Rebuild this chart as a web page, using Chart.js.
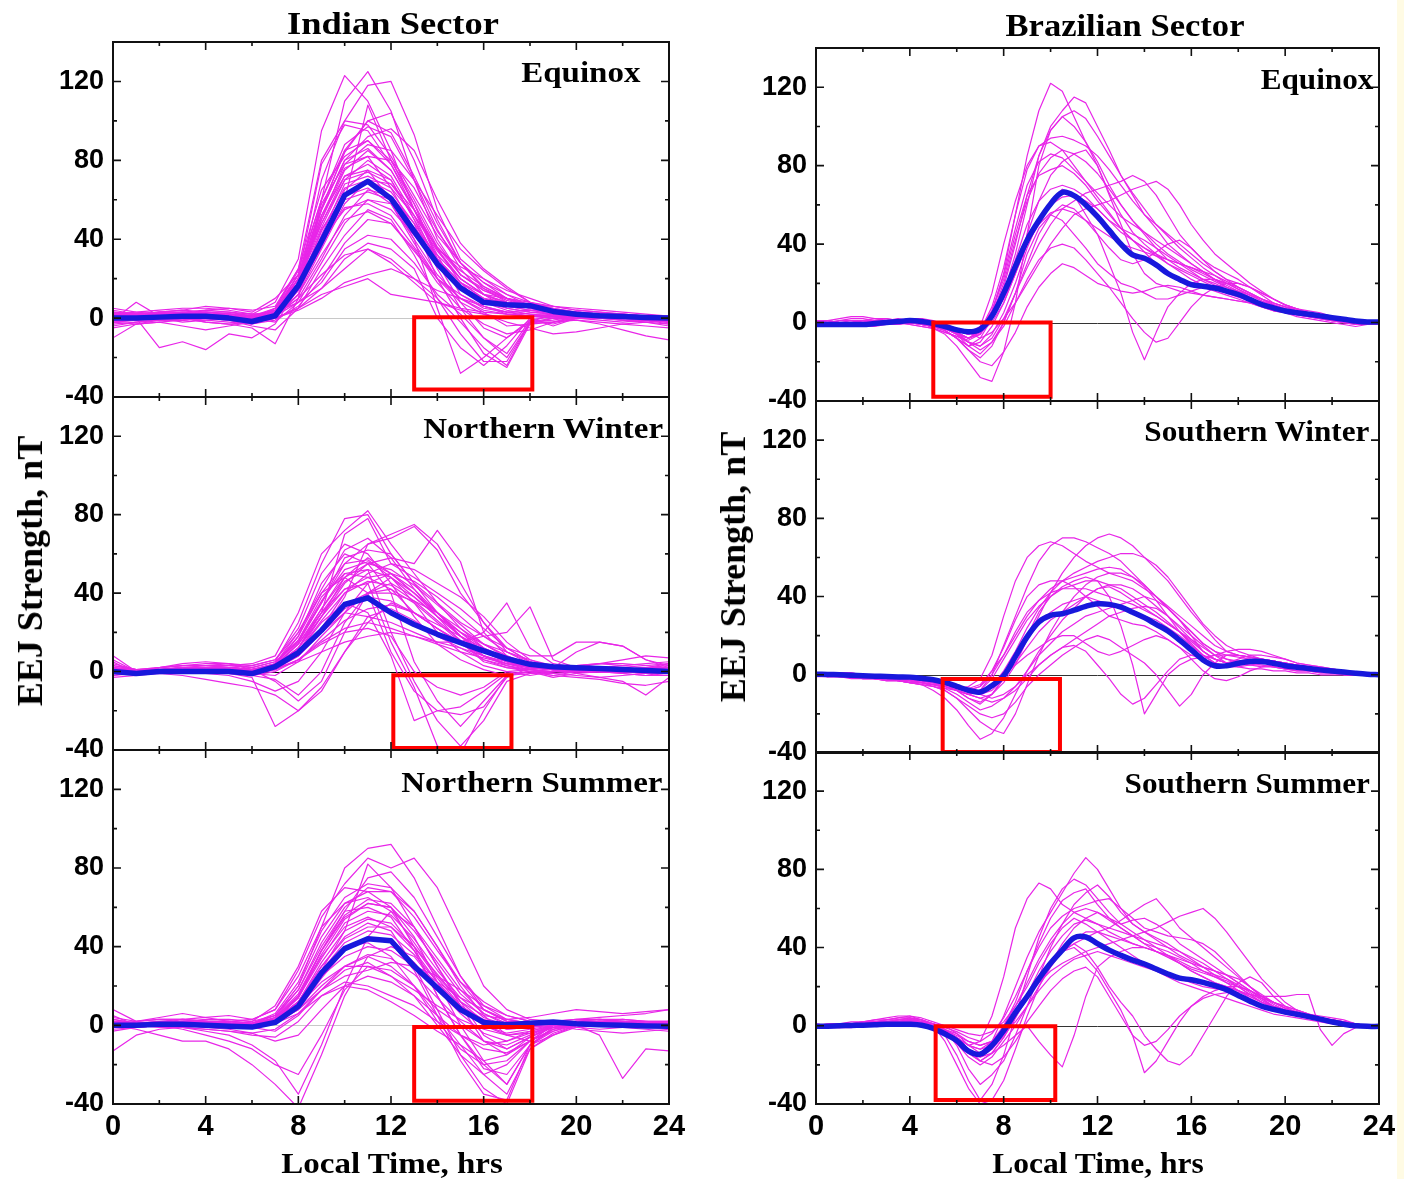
<!DOCTYPE html>
<html><head><meta charset="utf-8">
<script src="https://cdn.jsdelivr.net/npm/chart.js@4.4.1/dist/chart.umd.min.js"></script>
<style>
html,body{margin:0;padding:0;background:#fff;}
body{width:1404px;height:1179px;position:relative;overflow:hidden;}
canvas{position:absolute;}
.t{position:absolute;font-family:'Liberation Serif','Times New Roman',serif;font-weight:bold;color:#000;white-space:nowrap;line-height:1;}
.strip{position:absolute;left:1397px;top:0;width:7px;height:1179px;background:#fffbe4;}
</style></head><body>
<div class="strip"></div>
<script>
// ---------------- DATA ----------------
const hoursHourly = [0,1,2,3,4,5,6,7,8,9,10,11,12,13,14,15,16,17,18,19,20,21,22,23,24];
const hoursHalf = [0,0.5,1,1.5,2,2.5,3,3.5,4,4.5,5,5.5,6,6.5,7,7.5,8,8.5,9,9.5,10,10.5,11,11.5,12,12.5,13,13.5,14,14.5,15,15.5,16,16.5,17,17.5,18,18.5,19,19.5,20,20.5,21,21.5,22,22.5,23,23.5,24];
const xTickValues = [0,4,8,12,16,20,24];
const xMinorTicks = [2,6,10,14,18,22];
const yTickValues = [-40,0,40,80,120];
const yMinorTicks = [-20,20,60,100];

// Indian sector, Equinox
const indEquinoxMean = [0,0,0.5,1,1,0,-1.7,1.2,16.5,39,62.3,69.4,60.6,44,27.5,15.3,8,6.8,6.3,3.4,2,1.2,0.8,0.3,0];
const indEquinoxDays = [
[2,1,3,4,3,2,1,5,22,60,110,125,105,70,40,22,14,10,8,6,4,3,2,1,0],
[0,-1,0,2,3,3,2,8,30,95,123,110,85,55,30,18,12,10,6,4,3,2,1,0,-2],
[-2,-3,-1,0,1,1,-1,4,18,70,100,118,120,93,55,30,20,14,10,6,4,3,2,1,0],
[1,0,-15,-12,-16,-8,-10,-3,15,55,85,100,104,80,50,28,15,8,5,4,3,2,1,0,-1],
[4,2,1,0,-2,-3,-5,-13,10,60,88,97,92,70,45,25,12,5,3,2,2,1,1,0,1],
[-1,8,1,2,4,5,4,6,25,65,82,90,80,60,38,22,15,10,7,5,3,2,1,0,0],
[0,1,2,3,2,1,-2,0,18,50,75,85,75,55,32,12,5,3,4,3,2,1,0,-1,-2],
[2,1,0,-1,0,1,0,3,22,48,70,80,72,52,28,8,-5,-10,-2,2,3,2,1,0,0],
[-5,-3,-2,-1,0,2,1,2,15,40,65,75,70,50,25,5,-10,-20,-2,0,2,1,0,-1,-3],
[3,2,2,3,4,3,1,1,12,35,58,70,68,55,35,18,6,2,1,0,-1,-2,-3,-4,-5],
[-10,-3,-2,-4,-6,-4,-2,1,10,30,52,65,62,48,20,0,-18,-25,-3,-2,0,0,-1,-2,-3],
[0,0,1,1,2,2,0,-2,8,28,48,60,58,40,5,-28,-20,-10,-1,-3,0,1,1,0,0],
[1,2,3,2,0,-1,-4,-6,5,25,42,55,50,32,10,-8,-22,-22,-2,-2,1,1,0,0,-1],
[-1,0,0,1,1,0,-3,-1,6,20,38,50,48,35,18,5,-3,-8,-6,-2,-1,-3,-6,-9,-11],
[2,3,4,5,5,4,2,1,8,18,35,42,40,28,12,2,-10,-18,-1,1,2,1,0,-1,-2],
[0,1,0,-2,-1,0,-1,0,5,15,30,38,35,25,0,-15,-24,-14,0,-4,0,1,2,1,0],
[3,2,2,1,1,2,2,3,8,15,25,35,30,20,10,-2,-15,-24,-2,-1,1,2,2,1,1],
[-2,-1,0,1,2,1,-1,2,10,22,32,35,28,18,8,4,2,-2,-5,-8,-7,-5,-3,-2,-1],
[1,0,-1,0,-2,-3,-2,0,4,10,18,22,25,20,14,10,6,3,1,0,0,-1,-2,-1,0],
[0,2,3,4,6,5,3,10,22,78,98,95,78,55,35,26,20,12,6,3,1,0,-1,-2,-4],
[-3,-2,-1,0,1,0,-2,5,25,80,100,98,82,62,42,28,18,10,5,3,2,1,0,-1,0],
[5,3,2,2,3,2,0,2,20,55,80,92,96,85,60,38,25,16,8,4,2,1,0,0,1],
[0,1,2,2,1,0,-1,3,20,58,78,82,66,45,28,16,10,8,7,6,5,4,3,2,1],
[-4,-2,-1,0,1,1,0,4,18,52,72,75,60,40,22,10,3,-4,-3,0,1,2,1,0,-1],
[1,0,-1,-1,0,0,-2,2,15,45,62,66,58,38,20,8,2,0,1,2,3,2,1,0,0],
[2,2,1,0,-1,-2,-3,0,12,40,55,60,55,42,28,15,8,5,3,2,1,0,0,-1,-2],
[0,0,1,1,0,-1,-2,0,5,12,16,20,12,10,8,5,3,2,1,1,0,0,-1,-1,-2],
[1,1,2,2,3,2,1,4,20,50,78,88,85,70,52,35,24,15,8,3,1,0,0,0,0],
[-1,0,0,1,1,1,0,3,16,42,68,72,66,52,36,24,16,10,6,3,2,1,0,0,-1],
[2,1,1,0,0,1,1,2,14,36,60,108,80,58,30,18,10,6,4,2,1,1,0,0,0],
[0,1,1,2,2,1,0,4,20,55,80,86,75,55,35,20,12,8,5,3,2,1,0,0,0],
[1,0,0,1,1,0,-1,3,18,48,72,78,70,50,30,16,8,4,2,1,1,0,0,0,-1],
[-1,-1,0,0,1,1,0,2,15,44,66,70,64,48,30,18,10,6,4,3,2,1,1,0,0],
[2,2,3,3,2,1,0,5,24,60,85,90,78,58,36,22,14,9,6,4,2,1,1,0,0],
[0,0,-1,-1,0,1,1,3,16,40,60,64,60,46,32,20,12,8,6,4,3,2,1,1,0],
[1,1,2,2,1,0,-2,2,14,38,56,58,52,36,20,10,4,2,1,1,0,0,0,0,0],
[-2,-1,-1,0,0,0,-1,3,20,52,76,82,80,66,44,28,18,12,8,5,3,2,1,0,-1],
[0,0,1,1,2,2,1,4,22,56,84,100,94,72,48,28,16,10,6,4,2,1,1,0,0],
[1,2,2,1,0,-1,-2,1,12,32,50,54,48,34,20,12,6,3,2,1,1,0,0,0,0],
[0,1,1,1,1,1,0,3,18,46,70,74,68,52,34,20,12,7,5,3,2,1,1,0,0]
];
const indEquinoxBox = [13, 18.1, -36.2, 0.5];

// Indian sector, Northern Winter
const indWinterMean = [0,-1,0,0,0,0,-1,2.5,9.7,21,34.2,37.6,30,24,19,14.7,10.5,6.6,3.7,2.5,2,1.5,1,0.5,0];
const indWinterDays = [
[8,0,2,3,3,4,2,5,25,55,78,80,60,45,30,20,10,5,2,1,0,0,1,2,3],
[5,-1,0,1,2,3,4,8,30,60,72,82,65,50,35,22,12,6,3,2,2,1,0,1,2],
[-2,0,1,2,1,0,-2,3,15,35,55,65,70,75,65,45,25,10,4,2,1,0,0,0,1],
[0,0,0,1,2,2,1,2,10,28,45,55,58,55,72,56,20,8,3,1,1,2,3,4,5],
[3,1,1,0,-1,-2,-5,-10,-5,10,30,45,50,42,30,18,8,3,0,-2,-3,-4,-6,-7,-5],
[0,0,2,4,5,4,1,-5,-15,-5,20,40,48,35,20,10,3,0,1,2,3,4,3,2,1],
[1,-1,-1,0,0,-1,-3,-28,-20,-8,10,25,35,30,22,15,6,2,0,0,1,0,-1,-2,0],
[-3,-2,-1,-2,-4,-6,-8,-12,-20,-10,10,28,32,26,18,12,6,3,1,0,0,1,2,1,0],
[2,0,1,1,2,1,0,3,18,45,60,55,40,5,-15,-28,-15,-2,0,0,1,2,1,0,1],
[0,-1,0,0,1,1,0,2,12,32,50,52,20,-5,-25,-38,-25,-5,-1,-1,0,0,0,-1,0],
[4,1,2,3,3,2,1,4,20,40,48,40,10,-10,-20,-22,-18,-3,2,2,3,4,4,3,4],
[-1,0,0,1,2,2,1,3,14,30,42,45,15,-8,-38,-42,-20,-2,0,-2,0,0,-1,-2,-2],
[1,0,1,2,1,0,-1,2,10,25,35,30,8,-25,-20,-18,-10,-1,0,-3,-1,0,0,0,1],
[0,0,1,2,3,3,2,5,15,35,58,62,60,45,35,25,18,12,8,8,15,15,13,6,3],
[2,1,0,0,1,1,0,4,18,40,55,57,48,40,28,20,14,10,6,3,2,4,6,8,7],
[-2,-1,0,1,2,2,1,4,16,38,50,48,42,30,22,15,20,35,12,4,2,1,0,-1,-2],
[6,0,1,2,2,1,-1,2,8,20,30,28,25,20,15,15,18,20,33,6,2,0,1,2,4],
[0,-1,-1,0,0,-1,-2,0,6,15,22,25,22,18,14,10,7,4,2,1,-1,-3,-5,-12,-3],
[1,0,0,1,1,0,-2,1,8,20,38,65,68,74,62,40,25,12,5,2,1,1,0,0,0],
[-1,0,1,1,2,2,1,3,12,28,48,58,50,40,30,18,10,5,2,1,0,0,0,1,1],
[3,1,2,3,4,4,3,6,20,42,62,68,58,42,28,15,5,2,1,0,0,1,1,1,2],
[0,0,-1,-1,0,0,-1,-2,5,18,30,40,42,35,25,15,8,5,3,2,10,15,13,6,2],
[2,0,0,1,1,1,0,1,6,14,20,22,18,0,-8,-12,-8,0,-2,0,1,1,1,2,2],
[-1,-1,0,0,1,2,3,6,22,50,65,60,45,28,14,6,1,-2,-1,0,1,1,0,0,-1],
[0,0,1,1,1,0,-2,-4,-12,0,25,40,45,38,28,18,10,5,2,1,0,0,0,0,0],
[1,0,0,0,1,1,0,2,5,10,15,18,20,18,15,12,8,4,1,-1,-2,-3,-2,-1,0],
[0,1,1,2,2,1,0,3,12,30,70,78,55,48,40,32,22,12,5,2,1,1,0,0,0],
[-1,0,0,0,1,1,0,2,8,22,40,50,55,52,45,38,28,15,6,2,1,0,0,-1,-1],
[0,0,1,1,1,1,0,2,10,26,40,46,44,36,26,16,8,4,2,1,1,0,0,0,0],
[1,0,0,1,1,0,-1,2,12,30,46,52,48,38,28,18,10,5,2,1,0,0,0,1,1],
[0,-1,0,0,1,1,1,3,14,32,48,55,52,44,34,24,14,7,3,1,1,1,0,0,0],
[2,1,1,2,2,2,1,3,10,22,34,40,40,36,30,22,14,8,4,2,1,1,1,1,2],
[-1,0,0,1,1,1,0,2,8,20,32,38,36,30,22,14,8,4,2,1,0,0,0,0,-1],
[0,0,1,1,2,2,1,3,12,28,42,48,50,46,38,28,18,10,5,2,1,1,0,0,0],
[1,0,0,0,1,1,0,1,6,16,26,32,34,30,24,18,12,7,3,1,0,0,0,0,1],
[0,1,1,1,2,2,1,4,16,36,52,56,50,40,30,20,12,6,3,1,1,0,0,0,0]
];
const indWinterBox = [12.1, 17.2, -39, -1.9];

// Indian sector, Northern Summer
const indSummerMean = [0,0,0.5,0.5,0,-0.5,-0.9,1.5,9.7,26.7,39,44,43,30,19,8,1.5,0.3,1,1.7,0.8,0.3,0,-0.3,-0.5];
const indSummerDays = [
[8,2,4,6,4,2,1,5,20,50,80,90,92,75,50,25,8,2,1,2,3,4,5,6,8],
[5,0,1,3,4,5,3,8,28,55,72,85,80,85,70,45,20,8,3,2,1,1,0,0,1],
[0,1,2,3,2,2,1,6,22,48,65,72,70,58,40,20,5,-5,-8,-3,1,2,2,1,2],
[-13,-5,-2,-1,0,1,2,10,30,58,70,68,60,40,15,-5,-20,-30,-10,-5,0,1,1,0,0],
[2,1,0,-1,-3,-5,-10,-18,-35,-10,20,45,58,50,30,10,-8,-15,-8,0,2,1,0,-1,-1],
[0,-2,-5,-8,-8,-12,-20,-30,-42,-15,15,35,40,35,20,8,0,-5,-3,0,1,2,1,0,0],
[3,1,0,-2,-5,-8,-12,-20,-25,-5,18,30,28,20,5,-10,-25,-35,-12,-5,-1,0,-1,-2,-3],
[1,0,1,2,2,1,0,4,15,38,55,62,60,45,22,0,-18,-30,-10,-2,0,1,1,1,2],
[-1,-1,0,0,1,1,0,3,12,30,45,52,48,30,8,-15,-32,-40,-12,-4,0,0,0,-1,-1],
[2,1,1,2,3,3,2,5,18,40,58,60,55,38,15,-5,-22,-25,-10,-1,1,2,2,1,1],
[0,0,1,1,1,0,-1,2,10,25,38,45,42,28,5,-18,-35,-38,-10,-3,0,0,0,0,0],
[4,2,3,3,2,1,0,3,12,28,40,42,35,20,2,-12,-20,-18,-8,-2,1,2,3,2,2],
[-3,-1,0,0,1,2,3,8,25,50,62,65,58,42,25,12,5,3,4,6,8,7,6,7,8],
[1,0,0,0,-1,-2,-4,-8,-5,8,20,25,22,15,5,-5,-12,-14,-8,-2,0,-5,-27,-12,-13],
[0,1,2,2,1,1,0,2,8,20,30,35,30,20,8,0,-8,-10,-5,0,2,3,3,2,1],
[2,1,0,0,0,0,-1,-3,5,18,28,32,25,15,0,-15,-25,-20,-8,0,1,1,0,0,0],
[0,0,0,1,1,1,0,2,10,25,35,40,38,30,22,14,8,3,1,0,-1,-2,-1,0,0],
[1,2,3,3,2,1,0,4,18,42,60,70,68,55,38,22,12,5,2,1,1,0,0,1,1],
[-2,-1,0,0,0,1,1,3,15,35,50,55,50,38,22,10,3,0,0,1,2,2,1,0,-1],
[0,0,1,1,2,2,1,3,10,22,30,30,25,18,10,3,-2,-5,-4,-1,0,0,0,0,0],
[1,0,-1,-1,-2,-3,-5,-6,2,15,22,20,15,10,2,-5,-10,-8,-3,0,1,1,1,1,1],
[0,1,1,2,2,2,1,5,20,45,62,68,68,58,40,22,8,2,1,2,3,3,2,1,0],
[-1,0,0,1,1,1,0,2,8,18,25,28,32,30,25,18,10,5,2,0,-2,-3,-4,-3,-2],
[3,1,0,-1,-2,-3,-4,-2,6,15,20,18,12,5,-3,-10,-18,-15,-6,0,2,3,2,2,2],
[0,0,1,1,1,1,0,3,14,38,58,75,78,65,45,25,10,3,1,1,2,2,1,1,0],
[-1,-1,0,0,0,0,-1,2,10,28,48,82,70,50,30,12,-5,-12,-6,-1,0,0,0,0,0],
[0,0,1,1,1,1,0,3,12,32,48,54,52,40,24,10,2,-2,-1,0,1,1,1,0,0],
[1,1,1,2,2,1,0,3,14,34,52,58,56,44,28,14,4,0,0,1,1,1,1,1,1],
[0,0,0,1,1,1,0,2,10,28,42,48,46,36,22,8,0,-4,-2,0,1,1,0,0,0],
[-1,0,0,0,1,1,0,3,14,36,54,62,60,48,32,16,6,1,0,1,1,0,0,0,-1],
[1,1,1,1,1,0,-1,1,8,24,38,44,42,32,18,6,-4,-8,-4,0,1,1,1,1,1],
[0,0,1,1,1,1,0,2,12,30,44,50,50,40,26,12,2,-2,-1,1,2,1,1,0,0],
[0,0,0,1,1,1,1,4,16,38,56,64,62,50,34,18,6,0,0,1,1,1,0,0,0],
[1,0,0,0,0,0,-1,1,6,18,30,36,34,26,14,2,-8,-12,-6,-1,0,0,0,0,0]
];
const indSummerBox = [13, 18.1, -38.4, -0.8];

// Brazilian sector, Equinox (half-hourly)
const braEquinoxMean = [-1,-1,-1,-1,-1,-0.5,0,0.5, 1,0.5,-0.5,-2,-3.7,-4.7,-3.4,3.4, 15,28.6,42,52,60.5,66.4,64.7,60, 54,47,40,34.5,32.8,29.4,25,22, 19.3,18.5,17.6,16,14.3,11.8,9.2,7.5, 5.9,5,4.2,3.4,2.5,1.7,0.8,0.3, 0.3];
const braEquinoxDays = [
[-1,-2,-1,0,1,0,-1,0, 1,2,0,-3,-6,-8,-5,5, 25,55,85,108,122,118,105,92, 80,66,55,46,40,35,30,26, 22,19,17,15,13,11,9,7, 5,4,3,2,1,1,0,0, -1],
[0,1,0,-1,0,1,2,1, 0,-1,-2,-4,-8,-12,-8,2, 15,35,60,85,100,108,115,112, 100,88,75,65,55,48,40,35, 30,26,22,18,15,12,10,8, 6,5,4,3,2,1,1,0, 0],
[1,0,-1,-2,-1,0,1,2, 1,0,-3,-6,-12,-20,-28,-30, -15,10,45,80,98,105,100,92, 82,70,60,52,45,38,32,28, 25,22,20,17,14,11,9,7, 6,4,3,2,1,0,-1,-1, 0],
[-2,-1,-1,0,0,1,0,-1, 0,1,0,-2,-5,-8,-4,8, 28,55,78,90,94,95,93,90, 85,78,70,62,55,50,45,40, 35,30,26,22,18,15,12,9, 7,5,4,3,2,1,1,0, 0],
[0,0,1,2,2,1,0,0, -1,-2,-3,-5,-7,-10,-12,-8, 2,15,28,40,50,58,62,66, 68,70,72,75,72,65,55,45, 38,32,28,25,22,18,14,10, 8,6,5,4,3,2,1,0, -1],
[1,1,0,-1,-2,-2,-1,0, 1,1,0,-2,-4,-6,-5,0, 10,25,45,62,75,82,86,88, 80,65,50,35,25,20,18,16, 15,14,13,12,11,10,9,8, 7,6,5,4,3,2,1,1, 0],
[-1,-1,0,0,1,1,0,0, 0,0,-1,-3,-6,-10,-12,-6, 5,20,38,52,62,68,65,55, 45,30,15,-5,-19,-5,8,15, 20,22,22,20,18,15,12,10, 8,6,5,4,3,2,1,0, 0],
[0,1,2,3,3,2,1,0, 0,-1,-2,-4,-8,-14,-18,-12, 0,15,30,45,55,60,58,52, 45,38,32,30,32,36,40,42, 38,32,26,22,20,18,15,12, 9,7,5,4,3,2,1,0, 0],
[-1,0,0,1,0,-1,-1,0, 1,0,-1,-3,-6,-12,-16,-10, -2,10,22,32,38,40,38,32, 25,18,10,2,-5,-10,-8,0, 8,14,18,20,20,18,15,12, 9,7,5,3,2,1,0,-1, -1],
[0,0,-1,-1,0,0,1,1, 0,-1,-2,-3,-5,-8,-4,6, 22,45,65,75,78,80,76,70, 62,55,48,42,38,35,32,30, 28,25,22,20,17,14,11,9, 7,5,4,3,2,1,0,0, 0],
[-2,-2,-1,-1,0,0,-1,-1, 0,0,-1,-2,-4,-6,-3,3, 12,25,40,52,60,64,65,62, 58,52,48,45,42,38,34,30, 26,22,19,16,14,12,10,8, 6,5,4,3,2,1,0,0, 0],
[1,1,0,0,-1,-1,0,1, 2,1,0,-2,-5,-10,-14,-10, 0,15,35,48,55,52,45,38, 30,25,20,18,15,12,12,14, 16,18,19,18,16,14,12,10, 8,7,6,5,3,2,1,0, 0],
[0,-1,-1,0,1,2,2,1, 0,0,-1,-2,-3,-5,-8,-5, 2,10,20,30,40,48,55,58, 60,62,65,68,70,72,68,60, 50,42,35,30,25,20,16,12, 9,7,5,4,3,2,1,0, 0],
[0,0,0,-1,-1,0,1,1, 2,2,1,-1,-3,-5,-2,15, 40,62,80,90,92,88,80,72, 64,56,48,42,36,30,25,22, 20,18,16,14,12,10,8,6, 5,4,3,2,1,0,-1,-1, 0],
[-1,-1,0,0,0,1,1,0, 0,-1,-2,-4,-8,-14,-20,-22, -15,-5,8,18,25,30,28,24, 20,18,16,15,16,18,19,18, 16,14,13,12,11,10,8,6, 5,3,2,1,0,-1,-2,-1, 0],
[1,0,0,0,-1,-1,0,0, -1,-2,-3,-5,-7,-9,-6,3, 18,40,65,85,98,105,108,104, 95,85,75,66,58,50,44,38, 33,28,24,20,17,14,11,8, 6,4,3,2,1,0,0,0, 0],
[0,0,0,0,0,0,0,0, 0,0,-1,-3,-6,-8,-5,4, 20,42,62,76,84,88,86,82, 76,68,60,52,46,40,35,31, 27,24,21,18,15,12,10,8, 6,5,4,3,2,1,0,0, 0],
[-1,-1,0,0,0,0,0,0, 0,0,-1,-3,-5,-8,-6,2, 14,32,50,62,68,70,68,64, 58,52,46,42,38,34,30,27, 24,21,18,16,14,12,10,8, 6,5,4,3,2,1,0,0, 0],
[0,0,1,1,1,0,0,0, 0,-1,-2,-4,-8,-12,-10,-2, 10,25,40,50,56,58,56,52, 48,44,40,38,36,34,32,30, 28,26,24,21,18,15,12,9, 7,5,4,3,2,1,0,0, 0],
[0,0,0,-1,-1,0,0,0, 0,0,-1,-2,-4,-6,-3,6, 24,48,70,82,86,84,78,72, 66,60,54,50,46,42,38,34, 30,26,22,19,16,13,10,8, 6,5,4,3,2,1,0,0, 0]
];
const braEquinoxBox = [5, 10, -37.8, 0];

// Brazilian sector, Southern Winter
const braWinterMean = [0.3,0.2,0,-0.3,-0.5,-0.7,-0.9,-1.1, -1.2,-1.8,-2.5,-3.9,-5.9,-7.9,-8.8,-5.6, -0.5,9.3,19.4,27,30.4,31.2,33,35, 36.3,36,34.6,32,29.2,25.8,22.4,17.7, 12.7,7.6,4.6,4.6,5.9,6.8,6.8,5.9, 4.6,3.9,3.2,2.5,1.9,1.4,0.8,0.3, 0];
const braWinterDays = [
[0,0,1,1,0,-1,-1,-2, -2,-3,-4,-6,-8,-10,-8,0, 15,30,45,58,66,70,70,68, 65,62,58,52,46,40,34,28, 22,16,12,10,9,8,7,6, 5,4,3,2,1,1,0,0, 0],
[1,0,0,-1,-1,-2,-2,-3, -3,-4,-5,-6,-8,-10,-12,-10, -4,5,18,30,42,52,60,66, 70,72,70,66,60,54,48,40, 32,25,18,12,10,9,8,7, 6,5,4,3,2,1,0,0, 0],
[0,-1,-1,-1,-2,-2,-3,-3, -4,-4,-5,-6,-7,-6,-2,10, 30,48,60,66,68,66,62,58, 55,52,50,48,44,40,35,30, 25,20,15,12,10,9,8,7, 6,5,4,3,2,1,1,0, 0],
[0,0,0,-1,-1,-2,-2,-3, -4,-5,-8,-12,-18,-26,-33,-30, -22,-10,2,12,20,28,34,40, 44,45,42,38,34,30,26,22, 18,14,10,8,7,6,5,4, 3,2,2,1,1,0,0,0, 0],
[-1,-1,0,0,0,-1,-1,-2, -3,-4,-6,-8,-12,-18,-24,-28, -30,-20,-5,10,22,32,40,46, 50,52,52,50,46,40,34,28, 22,16,12,8,6,5,5,4, 3,2,2,1,1,0,0,0, 0],
[0,0,1,1,0,0,-1,-1, -2,-2,-3,-4,-6,-8,-10,-8, -2,8,20,32,40,45,48,50, 48,40,25,5,-20,-10,0,5, 8,9,10,10,10,9,8,7, 6,5,4,3,2,1,0,0, 0],
[0,0,-1,-1,-2,-2,-3,-3, -4,-5,-6,-7,-8,-10,-12,-14, -12,-8,-2,5,10,14,15,12, 5,-2,-10,-15,-12,-5,2,8, 10,10,8,6,5,5,4,4, 3,3,2,2,1,1,0,0, 0],
[1,1,0,0,-1,-1,-2,-2, -3,-3,-4,-5,-7,-9,-10,-6, 2,12,24,34,42,48,52,55, 58,60,62,62,60,56,50,42, 34,26,20,15,12,10,8,7, 6,5,4,3,2,1,0,0, 0],
[0,-1,-1,-2,-2,-2,-3,-3, -4,-4,-5,-6,-8,-12,-15,-10, -2,8,18,26,32,36,38,40, 38,36,34,32,30,28,24,20, 15,10,6,4,5,6,7,7, 6,5,4,3,2,1,1,0, 0],
[0,0,0,-1,-1,-1,-2,-2, -3,-3,-4,-5,-6,-8,-10,-12, -10,-6,0,5,10,14,18,22, 26,30,32,34,35,34,30,25, 20,15,10,6,4,3,3,2, 2,1,1,0,0,0,0,0, 0],
[1,1,0,0,0,-1,-1,-2, -2,-3,-4,-5,-6,-8,-6,2, 14,28,40,46,48,48,45,40, 35,30,28,26,25,22,18,14, 10,8,10,12,13,13,12,10, 8,6,5,4,3,2,1,0, 0],
[0,0,-1,-1,-1,-2,-2,-3, -4,-5,-6,-8,-12,-16,-20,-22, -20,-14,-6,0,5,10,14,18, 20,18,14,10,6,0,-8,-16, -10,0,6,10,10,9,8,6, 5,4,3,2,2,1,0,0, 0],
[0,0,0,0,-1,-1,-1,-2, -2,-3,-4,-5,-6,-7,-5,2, 10,20,30,38,44,48,50,52, 54,55,54,50,45,38,30,22, 15,10,6,4,4,5,6,6, 5,4,3,2,1,1,0,0, 0],
[0,-1,-1,-1,-2,-2,-2,-3, -3,-4,-5,-6,-8,-10,-9,-5, 0,5,10,14,18,20,20,16, 12,10,12,15,18,20,18,14, 8,2,-2,-3,-1,2,4,5, 5,4,3,2,1,1,0,0, 0],
[0,0,0,-1,-1,-1,-2,-2, -3,-4,-5,-7,-10,-14,-18,-16, -12,-6,2,10,16,22,26,30, 32,34,36,38,40,38,34,28, 20,12,8,6,8,10,10,9, 8,6,5,4,3,2,1,0, 0],
[0,0,0,0,-1,-1,-1,-2, -2,-3,-4,-5,-7,-9,-8,-2, 8,18,28,35,40,44,46,48, 48,46,44,40,36,32,27,22, 16,10,6,5,6,7,7,6, 5,4,3,2,1,1,0,0, 0],
[0,0,-1,-1,-1,-2,-2,-2, -3,-3,-4,-6,-8,-12,-14,-10, -2,6,14,22,28,32,36,40, 44,46,46,44,40,35,30,24, 18,12,8,6,6,7,7,6, 5,4,3,2,1,1,0,0, 0],
[0,0,0,0,0,-1,-1,-1, -2,-2,-3,-4,-6,-8,-6,0, 10,22,32,38,42,44,44,44, 42,40,38,36,33,30,26,22, 17,12,8,6,7,8,8,7, 6,5,4,3,2,1,0,0, 0]
];
const braWinterBox = [5.4, 10.4, -39.5, -2.2];

// Brazilian sector, Southern Summer
const braSummerMean = [-0.3,-0.2,0,0.2,0.3,0.5,0.8,0.8, 0.8,0.3,-1.3,-4.2,-7.6,-13,-14.5,-10, -2.5,6.7,15,24,32,38.7,45,45.4, 42,38.7,36,33.6,31.6,29,26.5,24.4, 23.5,22.2,20.5,18.5,15.5,12.6,10,8.4, 7,5.9,4.7,3.4,2,0.8,0,-0.3, -0.3];
const braSummerDays = [
[0,0,1,1,2,2,3,4, 5,4,2,0,-4,-10,-14,-8, 5,20,35,48,58,68,78,86, 80,70,60,52,48,45,42,38, 34,30,26,22,18,14,11,8, 6,5,4,3,2,1,0,0, 0],
[-1,0,0,1,1,2,2,3, 3,2,0,-5,-15,-28,-38,-30, -15,5,25,45,60,70,75,72, 65,58,52,48,44,40,36,32, 28,25,22,20,18,15,12,10, 8,6,5,4,3,2,1,0, 0],
[0,-1,0,0,1,1,2,2, 3,3,1,-2,-6,-10,-8,5, 25,50,65,73,70,62,58,55, 52,50,48,46,44,42,40,38, 35,32,28,24,20,16,12,9, 7,5,4,3,2,1,1,0, 0],
[1,0,0,0,1,1,2,3, 4,2,0,-3,-8,-14,-16,-12, -5,5,15,25,32,38,42,45, 48,50,54,58,62,65,58,50, 45,40,35,30,25,20,15,12, 9,7,5,4,3,2,1,0, 0],
[0,0,-1,-1,0,1,1,2, 2,1,-1,-4,-8,-14,-18,-14, -6,4,14,24,32,38,40,35, 28,18,8,-5,-24,-18,-8,2, 10,15,18,20,20,18,15,12, 9,7,5,3,2,1,0,0, 0],
[0,0,0,1,1,2,2,2, 3,2,0,-3,-8,-12,-16,-14, -10,-5,0,-8,-15,-21,-5,15, 30,35,38,40,40,38,35,32, 28,25,22,20,18,15,12,10, 8,6,5,4,3,2,1,0, 0],
[-1,-1,0,0,0,1,1,2, 2,1,0,-2,-4,-8,-10,-8, -2,6,15,22,28,32,35,38, 40,42,44,46,48,50,53,56, 58,60,55,48,40,32,24,18, 12,8,6,4,3,2,1,0, 0],
[0,1,1,2,2,3,3,4, 4,3,0,-8,-20,-32,-40,-38, -28,-12,5,20,32,42,50,55, 58,55,50,46,42,40,38,35, 32,28,25,22,20,18,15,12, 10,8,6,4,3,2,1,0, 0],
[0,0,0,0,1,1,1,2, 2,1,0,-2,-5,-8,-10,-8, -4,2,10,18,25,30,34,36, 38,36,34,32,30,28,26,24, 22,20,19,18,17,16,15,15, 15,16,16,-2,-10,-4,-1,0, 0],
[0,0,0,1,1,1,2,2, 2,2,1,0,-2,-4,-5,-3, 2,10,20,32,42,50,55,52, 48,44,40,36,32,28,25,22, 20,18,16,14,12,10,8,6, 5,4,3,2,1,1,0,0, 0],
[0,0,1,1,1,2,2,2, 3,2,0,-3,-6,-10,-12,-10, -4,5,15,25,32,38,42,38, 30,20,12,5,-5,-12,-18,-20, -15,-5,5,15,22,25,22,15, 10,6,4,3,2,1,0,0, 0],
[0,-1,-1,0,0,1,1,2, 3,2,1,-1,-3,-6,-8,-4, 4,15,28,40,50,56,60,62, 64,65,60,55,50,48,46,45, 44,42,38,32,26,20,15,11, 8,6,5,3,2,1,0,0, 0],
[1,0,0,0,1,1,1,2, 2,2,0,-3,-6,-12,-18,-20, -16,-8,2,10,18,24,28,30, 25,15,5,-5,-10,-8,-2,5, 10,14,16,17,18,16,14,12, 10,8,6,5,4,3,1,0, 0],
[0,0,1,1,2,2,3,3, 4,3,1,-2,-6,-12,-15,-10, 0,12,28,42,55,64,68,70, 62,55,52,54,55,52,48,42, 38,34,30,26,22,18,14,10, 8,6,4,3,2,1,0,0, 0],
[0,1,1,1,2,3,4,5, 5,3,1,-2,-10,-22,-30,-25, -18,-5,10,25,40,52,62,68, 72,66,58,52,48,44,40,36, 33,30,28,26,24,20,16,12, 9,7,5,3,2,1,0,0, 0],
[0,0,0,1,1,2,2,3, 3,2,0,-3,-8,-14,-18,-14, -6,4,16,28,38,46,52,54, 52,48,45,42,40,38,36,34, 32,30,28,26,22,18,14,10, 8,6,5,3,2,1,0,0, 0],
[0,0,1,1,1,2,2,2, 3,2,0,-2,-6,-10,-12,-8, 0,10,22,34,44,52,58,60, 58,54,50,46,42,38,35,32, 29,27,25,23,20,16,12,9, 7,6,4,3,2,1,0,0, 0],
[0,0,0,1,1,1,2,2, 2,1,-1,-4,-9,-16,-20,-16, -8,0,10,20,30,38,44,48, 48,46,44,42,40,38,36,33, 30,28,26,24,21,17,13,10, 8,6,5,3,2,1,0,0, 0]
];
const braSummerBox = [5.1, 10.2, -37.9, -0.3];

// ---------------- STYLE / LAYOUT ----------------
const MAGENTA = 'rgb(232,38,232)';
const BLUE = '#1818dc';
const RED = '#ff0000';
const TICKFONT = "'Liberation Sans', Arial, sans-serif";
const TOPPAD = 30, RIGHTPAD = 30;

const panels = [
 {hours:hoursHourly, mean:indEquinoxMean, days:indEquinoxDays, box:indEquinoxBox, zero:'#c8c8c8', area:{l:113,t:42,r:669,b:397}, col:0, bottom:false, tension:0},
 {hours:hoursHourly, mean:indWinterMean, days:indWinterDays, box:indWinterBox, zero:'#000', area:{l:113,t:397,r:669,b:750}, col:0, bottom:false, tension:0},
 {hours:hoursHourly, mean:indSummerMean, days:indSummerDays, box:indSummerBox, zero:'#c8c8c8', area:{l:113,t:750,r:669,b:1104}, col:0, bottom:true, tension:0},
 {hours:hoursHalf, mean:braEquinoxMean, days:braEquinoxDays, box:braEquinoxBox, zero:'#333', area:{l:816,t:48,r:1379,b:401}, col:700, bottom:false, tension:0.35},
 {hours:hoursHalf, mean:braWinterMean, days:braWinterDays, box:braWinterBox, zero:'#333', area:{l:816,t:401,r:1379,b:753}, col:700, bottom:false, tension:0.35},
 {hours:hoursHalf, mean:braSummerMean, days:braSummerDays, box:braSummerBox, zero:'#333', area:{l:816,t:752,r:1379,b:1104}, col:700, bottom:true, tension:0.35}
];

const framePlugin = {
  id:'frame',
  beforeDatasetsDraw(chart, args, opts){
    const {ctx, chartArea:a, scales:{y}} = chart;
    const y0 = Math.round(y.getPixelForValue(0)) + 0.5;
    ctx.save();
    ctx.strokeStyle = opts.zero; ctx.lineWidth = 1;
    ctx.beginPath(); ctx.moveTo(a.left, y0); ctx.lineTo(a.right, y0); ctx.stroke();
    ctx.restore();
  },
  afterDraw(chart){
    const {ctx, chartArea:a, scales:{x,y}} = chart;
    ctx.save();
    ctx.strokeStyle = '#111';
    ctx.lineWidth = 1.6;
    ctx.beginPath();
    const xt = (vals, len) => vals.forEach(v => {
      const px = x.getPixelForValue(v);
      ctx.moveTo(px, a.bottom); ctx.lineTo(px, a.bottom - len);
      ctx.moveTo(px, a.top); ctx.lineTo(px, a.top + len);
    });
    const yt = (vals, len) => vals.forEach(v => {
      const py = y.getPixelForValue(v);
      ctx.moveTo(a.left, py); ctx.lineTo(a.left + len, py);
      ctx.moveTo(a.right, py); ctx.lineTo(a.right - len, py);
    });
    xt(xTickValues, 8); xt(xMinorTicks, 4);
    yt(yTickValues, 8); yt(yMinorTicks, 4);
    ctx.stroke();
    ctx.lineWidth = 2;
    ctx.strokeRect(a.left, a.top, a.right - a.left, a.bottom - a.top);
    ctx.restore();
  }
};

function lineDs(hours, vals, color, width, order, tension){
  return {data: vals.map((v,i)=>({x:hours[i], y:v})), borderColor:color, borderWidth:width,
          pointRadius:0, fill:false, tension:tension, order:order, borderJoinStyle:'round', borderCapStyle:'round'};
}
function boxDs(b){
  const [x0,x1,yLo,yHi] = b;
  return {data:[{x:x0,y:yHi},{x:x1,y:yHi},{x:x1,y:yLo},{x:x0,y:yLo},{x:x0,y:yHi}],
          borderColor:RED, borderWidth:4, pointRadius:0, fill:false, tension:0, order:0,
          borderJoinStyle:'miter', borderCapStyle:'square'};
}

panels.forEach(p => {
  const a = p.area;
  const xH = p.bottom ? 55 : 30;
  const yW = a.l - p.col;
  const W = a.r + RIGHTPAD - p.col;
  const H = (a.b - a.t) + TOPPAD + xH;
  const cv = document.createElement('canvas');
  cv.width = W; cv.height = H;
  cv.style.left = p.col + 'px'; cv.style.top = (a.t - TOPPAD) + 'px';
  cv.style.width = W + 'px'; cv.style.height = H + 'px';
  document.body.appendChild(cv);
  const datasets = [boxDs(p.box), lineDs(p.hours, p.mean, BLUE, 5.5, 1, p.tension)];
  p.days.forEach(d => datasets.push(lineDs(p.hours, d, MAGENTA, 1.2, 2, 0)));
  new Chart(cv, {
    type:'line',
    data:{datasets},
    options:{
      responsive:false, animation:false, events:[],
      layout:{padding:{top:TOPPAD, right:RIGHTPAD, left:0, bottom:0}},
      plugins:{legend:{display:false}, tooltip:{enabled:false}, frame:{zero:p.zero}},
      scales:{
        x:{type:'linear', min:0, max:24,
           grid:{display:false, drawTicks:false}, border:{display:false},
           afterBuildTicks:s=>{ s.ticks = xTickValues.map(v=>({value:v})); },
           afterFit:s=>{ s.height = xH; },
           ticks:{display:p.bottom, autoSkip:false, maxRotation:0, minRotation:0, padding:6, color:'#000',
                  font:{family:TICKFONT, size:29, weight:'bold'}}},
        y:{type:'linear', min:-40, max:140,
           grid:{display:false, drawTicks:false}, border:{display:false},
           afterBuildTicks:s=>{ s.ticks = yTickValues.map(v=>({value:v})); },
           afterFit:s=>{ s.width = yW; },
           ticks:{padding:9, color:'#000', font:{family:TICKFONT, size:27, weight:'bold'}}}
      }
    },
    plugins:[framePlugin]
  });
});

// ---------------- TEXT ----------------
function addText(txt, opt){
  const d = document.createElement('div');
  d.className = 't';
  d.textContent = txt;
  d.style.fontSize = opt.size + 'px';
  d.style.top = opt.y + 'px';
  if (opt.align === 'right') {
    d.style.right = (1404 - opt.x) + 'px';
    d.style.transformOrigin = '100% 50%';
    d.style.transform = 'translateY(-50%) scaleX(' + opt.sx + ')';
  } else if (opt.rot) {
    d.style.left = opt.x + 'px';
    d.style.transformOrigin = '50% 50%';
    d.style.transform = 'translate(-50%,-50%) rotate(-90deg)';
  } else {
    d.style.left = opt.x + 'px';
    d.style.transformOrigin = '50% 50%';
    d.style.transform = 'translate(-50%,-50%) scaleX(' + opt.sx + ')';
  }
  document.body.appendChild(d);
}
addText('Indian Sector', {x:393, y:23, size:32, sx:1.14});
addText('Brazilian Sector', {x:1125, y:25, size:32, sx:1.08});
addText('Equinox', {x:640, y:72, size:30, sx:1.1, align:'right'});
addText('Northern Winter', {x:663, y:428, size:30, sx:1.1, align:'right'});
addText('Northern Summer', {x:662, y:782, size:30, sx:1.1, align:'right'});
addText('Equinox', {x:1373, y:79, size:30, sx:1.04, align:'right'});
addText('Southern Winter', {x:1369, y:431, size:30, sx:1.04, align:'right'});
addText('Southern Summer', {x:1370, y:783, size:30, sx:1.04, align:'right'});
addText('Local Time, hrs', {x:392, y:1163, size:30, sx:1.1});
addText('Local Time, hrs', {x:1098, y:1163, size:30, sx:1.05});
addText('EEJ Strength, nT', {x:30, y:571, size:36, rot:true});
addText('EEJ Strength, nT', {x:733, y:567, size:36, rot:true});
</script>
</body></html>
